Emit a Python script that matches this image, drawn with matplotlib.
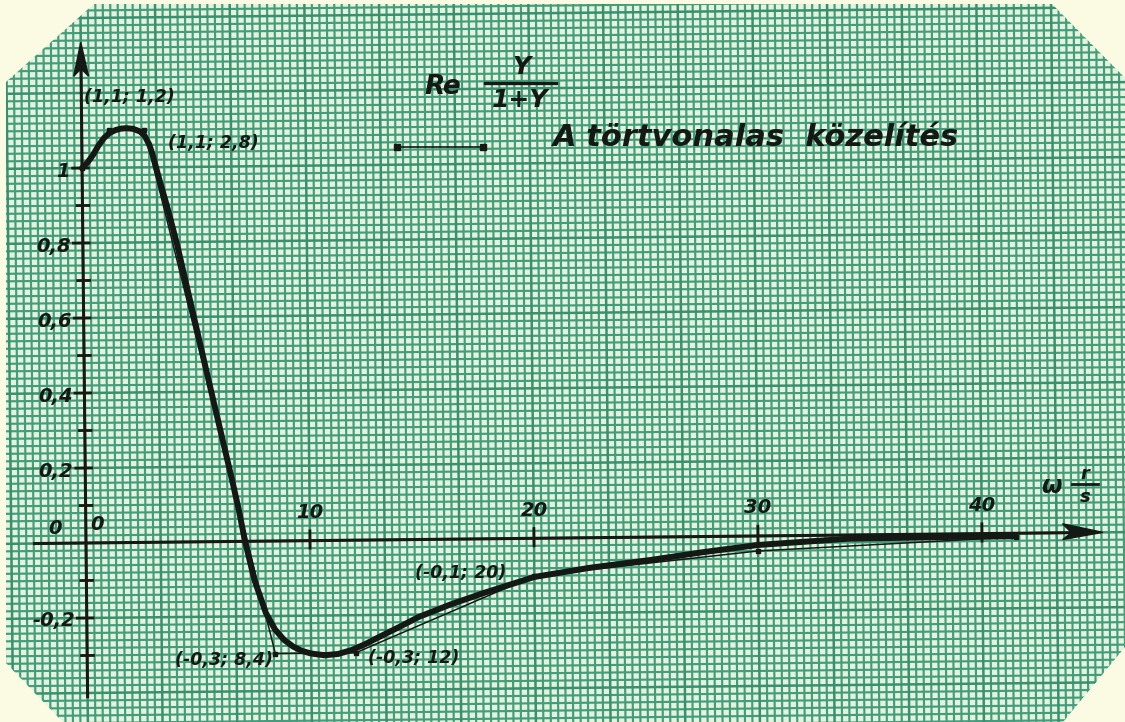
import matplotlib
matplotlib.use('Agg')
import matplotlib.pyplot as plt
from matplotlib.patches import Polygon
from matplotlib.collections import LineCollection
from matplotlib.transforms import Affine2D

# Re Y/(1+Y) against omega [r/s] - the smooth curve
omega = [0, 0.25, 0.5, 0.75, 1.0, 1.25, 1.5, 1.75, 2.0, 2.3, 2.6, 2.8, 3.0, 3.15,
         3.36, 3.8, 4.2, 4.55, 5.05, 5.55, 6.05, 6.55, 6.85, 7.1, 7.5, 8.0,
         8.4, 8.8, 9.2, 9.6, 10.0, 10.6, 11.2, 11.8, 12.4, 13.0, 13.9, 14.8,
         16.2, 17.7, 20.0, 22.5, 25.2, 27.5, 30.0, 34.0, 38.6, 41.5]
re_val = [1.0, 1.015, 1.035, 1.06, 1.08, 1.093, 1.1, 1.104, 1.105, 1.103, 1.096,
          1.085, 1.062, 1.035, 0.986, 0.89, 0.795, 0.70, 0.565, 0.43, 0.297,
          0.164, 0.08, 0.0, -0.103, -0.192, -0.236, -0.264, -0.282, -0.294,
          -0.301, -0.306, -0.303, -0.293, -0.278, -0.26, -0.234, -0.207,
          -0.175, -0.145, -0.103, -0.08, -0.061, -0.042, -0.024, -0.01,
          -0.008, -0.008]

# broken-line approximation (toertvonalas koezelites)
brk_omega = [0, 1.2, 2.8, 8.4, 12, 20, 30, 41.5]
brk_val = [1.0, 1.1, 1.1, -0.3, -0.3, -0.1, -0.04, -0.01]
# vertices that get a "(value; omega)" label
lab_omega = [1.2, 2.8, 8.4, 12, 20]
lab_val = [1.1, 1.1, -0.3, -0.3, -0.1]
lab_off = [(21, 33), (69, -13), (-51, -6), (58, -5), (-74, 3)]

yticks = [-0.3, -0.2, -0.1, 0.1, 0.2, 0.3, 0.4, 0.5, 0.6, 0.7, 0.8, 0.9, 1.0]
ylabels = [-0.2, 0.2, 0.4, 0.6, 0.8, 1]
xticks = [10, 20, 30, 40]

INK = '#141915'
PAPER = '#e6f3dc'
LINE = '#419d7c'
BG = '#fbfbe4'
W, H = 1125, 722
ox, oy = 86, 543          # origin in pixels (from top)
sx, sy = 22.4, 375.0      # pixels per unit

fig = plt.figure(figsize=(W / 100, H / 100), dpi=100, facecolor=BG)
ax = fig.add_axes([0, 0, 1, 1])
ax.set_xlim(-ox / sx, (W - ox) / sx)
ax.set_ylim(-(H - oy) / sy, oy / sy)
ax.axis('off')

# sheet is slightly skewed
rot = Affine2D().rotate_deg_around(ox, H - oy, 0.6)
tr = ax.transData + rot

def fig_px(x, y):
    return x / W, 1 - y / H

# the graph paper sheet with cut corners
corners = [(94, 4), (1052, 4), (1125, 78), (1125, 647), (1063, 722),
           (63, 722), (6, 663), (6, 82)]
sheet = Polygon([fig_px(*c) for c in corners], closed=True,
                transform=fig.transFigure, facecolor=PAPER, edgecolor='none', zorder=0)
ax.add_patch(sheet)

# millimetre grid: 1/3 unit in omega, 0.02 in Re
minor, major = [], []
for k in range(-20, 146):
    seg = [(k / 3, -0.8), (k / 3, 1.8)]
    (major if k % 10 == 0 else minor).append(seg)
for j in range(-40, 91):
    seg = [(-6, j * 0.02), (50, j * 0.02)]
    (major if j % 10 == 0 else minor).append(seg)
for segs, lw, c in [(minor, 1.55, LINE), (major, 1.8, '#379170')]:
    lc = LineCollection(segs, colors=c, linewidths=lw, transform=tr, zorder=1)
    lc.set_clip_path(sheet)
    ax.add_collection(lc)

# axes with arrows
ax.plot([-2.3, 44.6], [0, 0], color=INK, lw=2.2, transform=tr, zorder=3)
ax.plot([0, 0], [-0.41, 1.28], color=INK, lw=2.2, transform=tr, zorder=3)
ax.add_patch(Polygon([(0, 1.335), (-0.33, 1.245), (0, 1.265), (0.33, 1.245)],
                     closed=True, color=INK, transform=tr, zorder=3))
ax.add_patch(Polygon([(45.4, 0), (43.6, 0.024), (44.0, 0), (43.6, -0.018)],
                     closed=True, color=INK, transform=tr, zorder=3))

for v in yticks:
    half = 0.42 if round(v * 10) % 2 == 0 else 0.25
    ax.plot([-half, 0.28], [v, v], color=INK, lw=2.0, transform=tr, zorder=3)
for v in xticks:
    ax.plot([v, v], [-0.02, 0.026], color=INK, lw=2.0, transform=tr, zorder=3)

font = dict(family='DejaVu Sans', weight='bold', style='oblique', color=INK)

for v in ylabels:
    txt = f'{v:g}'.replace('.', ',')
    ax.annotate(txt, (0, v), xycoords=tr, xytext=(-12, -3), textcoords='offset pixels',
                ha='right', va='center', fontsize=14, zorder=4, **font)
for v in xticks:
    ax.annotate(str(v), (v, 0), xycoords=tr, xytext=(0, 28), textcoords='offset pixels',
                ha='center', va='center', fontsize=14, zorder=4, **font)
ax.annotate('0', (0, 0), xycoords=tr, xytext=(-31, 15), textcoords='offset pixels',
            ha='center', va='center', fontsize=14, zorder=4, **font)
ax.annotate('0', (0, 0), xycoords=tr, xytext=(11, 19), textcoords='offset pixels',
            ha='center', va='center', fontsize=14, zorder=4, **font)

# curves
ax.plot(brk_omega, brk_val, color=INK, lw=1.1, transform=tr, zorder=5)
ax.plot(brk_omega, brk_val, 's', color=INK, ms=2.5, transform=tr, zorder=5)
ax.plot(omega, re_val, color=INK, lw=4.3, transform=tr, zorder=6,
        solid_capstyle='round', solid_joinstyle='round')

for w, v, off in zip(lab_omega, lab_val, lab_off):
    txt = f'({v:.1f}; {w:g})'.replace('.', ',')
    ax.annotate(txt, (w, v), xycoords=tr, xytext=off, textcoords='offset pixels',
                ha='center', va='center', fontsize=12.5, zorder=7, **font)

# title: Re Y/(1+Y)
ax.text(*fig_px(443, 87), 'Re', transform=fig.transFigure, ha='center', va='center',
        fontsize=19, zorder=7, **font)
ax.text(*fig_px(521, 67), 'Y', transform=fig.transFigure, ha='center', va='center',
        fontsize=18, zorder=7, **font)
ax.plot([485 / W, 556 / W], [1 - 83 / H] * 2, color=INK, lw=2.4,
        transform=fig.transFigure, zorder=7)
ax.text(*fig_px(520, 100), '1+Y', transform=fig.transFigure, ha='center', va='center',
        fontsize=18, zorder=7, **font)

# legend for the broken line
ax.plot([397 / W, 483 / W], [1 - 147 / H] * 2, color=INK, lw=1.2,
        transform=fig.transFigure, zorder=7)
ax.plot([397 / W, 483 / W], [1 - 147 / H] * 2, 's', color=INK, ms=4,
        transform=fig.transFigure, zorder=7)
ax.text(*fig_px(553, 138), 'A törtvonalas  közelítés', transform=fig.transFigure,
        ha='left', va='center', fontsize=22, zorder=7, **font)

# omega [r/s] at the end of the axis
ax.text(*fig_px(1051, 486), 'ω', transform=fig.transFigure, ha='center', va='center',
        fontsize=17, zorder=7, **font)
ax.text(*fig_px(1085, 474), 'r', transform=fig.transFigure, ha='center', va='center',
        fontsize=13, zorder=7, **font)
ax.plot([1072 / W, 1098 / W], [1 - 484 / H] * 2, color=INK, lw=2.0,
        transform=fig.transFigure, zorder=7)
ax.text(*fig_px(1085, 497), 's', transform=fig.transFigure, ha='center', va='center',
        fontsize=13, zorder=7, **font)

fig.savefig('out.png', dpi=100, facecolor=BG)
